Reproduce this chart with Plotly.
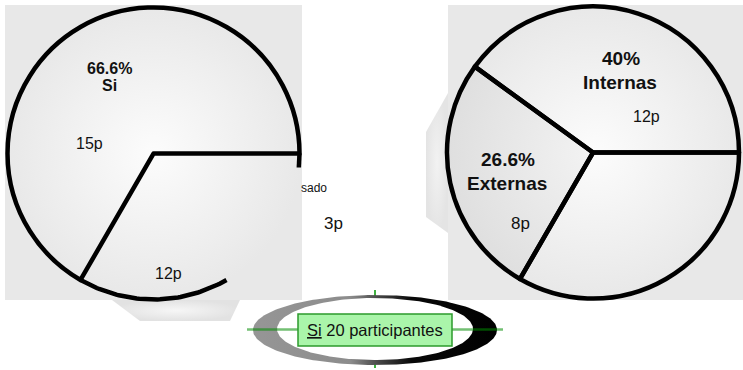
import numpy as np
import plotly.graph_objects as go

W, H = 743, 370

# ---- data ----
left_labels = ["Si", "No"]
left_values = [20, 10]
right_labels = ["Externas", "Internas", "No"]
right_values = [8, 12, 10]
right_fills = ["rgba(0,0,0,0.035)", "rgba(0,0,0,0)", "rgba(0,0,0,0)"]

left_texts = ["66.6%", "Si", "15p", "12p", "sado", "3p"]
right_texts = ["40%", "Internas", "12p", "26.6%", "Externas", "8p"]
badge_text = "<u>Si</u> 20 participantes"

FONT = "Liberation Sans, Arial, sans-serif"

fig = go.Figure()


def poly(xs, ys, **kw):
    xs = list(xs) + [list(xs)[0]]
    ys = list(ys) + [list(ys)[0]]
    fig.add_trace(go.Scatter(x=xs, y=ys, mode="lines",
                             line=dict(width=0, color="rgba(0,0,0,0)"),
                             fill="toself", hoverinfo="skip", showlegend=False, **kw))


def rgrad(c0, c1):
    return dict(type="radial", colorscale=[[0, c0], [1, c1]])


# background panels
poly([5, 302, 302, 5], [5, 5, 300, 300], fillgradient=rgrad("#fcfcfc", "#e8e8e8"))
poly([112, 240, 230, 140], [300, 300, 321, 321], fillgradient=rgrad("#f6f6f6", "#e2e2e2"))
poly([448, 743, 743, 448], [5, 5, 300, 300], fillgradient=rgrad("#fcfcfc", "#e8e8e8"))
poly([448, 426, 426, 448], [93, 132, 217, 233], fillgradient=rgrad("#f2f2f2", "#e4e4e4"))

# left pie geometry (pixels) -> domain
LCX, LCY, LR = 153.5, 153.5, 146
RCX, RCY, RR = 593, 152.5, 146

# visible parts of the "No" slice outline of the left pie (the rest is cropped in the source)
split = 90 + 360 * left_values[1] / sum(left_values)   # Si/No boundary (clockwise deg from 12 o'clock)
for a0, a1 in [(split, 150), (90, 95.5)]:
    ph = np.radians(np.linspace(a0, a1, 60))
    fig.add_trace(go.Scatter(x=LCX + LR * np.sin(ph), y=LCY - LR * np.cos(ph), mode="lines",
                             line=dict(color="black", width=4.5), hoverinfo="skip",
                             showlegend=False))

# ellipse badge
t = np.linspace(0, 2 * np.pi, 240)
poly(375 + 122 * np.cos(t), 330 + 35 * np.sin(t),
     fillgradient=dict(type="horizontal",
                       colorscale=[[0, "#969696"], [0.4, "#8c8c8c"], [0.52, "#444444"],
                                   [0.65, "#080808"], [1, "#000000"]]))
poly(375 + 98 * np.cos(t), 329 + 31 * np.sin(t), fillcolor="white")

# pies
fig.add_trace(go.Pie(labels=left_labels, values=left_values, sort=False,
                     direction="clockwise",
                     rotation=90 - 360 * left_values[0] / sum(left_values),
                     marker=dict(colors=["rgba(0,0,0,0)"] * 2,
                                 line=dict(color="black", width=[4.5, 0])),
                     textinfo="none", showlegend=False,
                     domain=dict(x=[(LCX - LR) / W, (LCX + LR) / W],
                                 y=[(H - LCY - LR) / H, (H - LCY + LR) / H])))
fig.add_trace(go.Pie(labels=right_labels, values=right_values, sort=False,
                     direction="clockwise",
                     rotation=90 - 360 * (right_values[0] + right_values[1]) / sum(right_values),
                     marker=dict(colors=right_fills,
                                 line=dict(color="black", width=4.5)),
                     textinfo="none", showlegend=False,
                     domain=dict(x=[(RCX - RR) / W, (RCX + RR) / W],
                                 y=[(H - RCY - RR) / H, (H - RCY + RR) / H])))

shapes = [
    dict(type="line", x0=375, x1=375, y0=290, y1=368, layer="below",
         line=dict(color="rgba(0,150,0,0.75)", width=2)),
    dict(type="line", x0=247, x1=503, y0=329.5, y1=329.5, layer="above",
         line=dict(color="rgba(0,140,0,0.55)", width=2.5)),
    dict(type="rect", x0=298, x1=452, y0=314, y1=346, layer="above",
         fillcolor="#aaf5aa", line=dict(color="#2d9a2d", width=1.5)),
]
for s in shapes:
    s.update(xref="x", yref="y")

ann = []


def label(text, x, y, size, bold=False, xanchor="center"):
    ann.append(dict(x=x, y=y, xref="x", yref="y", text=f"<b>{text}</b>" if bold else text,
                    showarrow=False, xanchor=xanchor, yanchor="middle",
                    font=dict(family=FONT, size=size, color="#111111")))


label(left_texts[0], 109, 68.5, 16, True)
label(left_texts[1], 109, 85, 16, True)
label(left_texts[2], 89, 143, 16)
label(left_texts[3], 168, 273, 16)
label(left_texts[4], 299, 188, 12, xanchor="left")
label(left_texts[5], 333, 223, 17)
label(right_texts[0], 621, 58, 19, True)
label(right_texts[1], 620, 82, 19, True)
label(right_texts[2], 646, 116, 16)
label(right_texts[3], 507.5, 159.5, 19, True)
label(right_texts[4], 507, 183, 19, True)
label(right_texts[5], 520, 223, 17)
label(badge_text, 375, 330, 16.5)

fig.update_layout(
    width=W, height=H, margin=dict(l=0, r=0, t=0, b=0),
    paper_bgcolor="white", plot_bgcolor="white", showlegend=False,
    xaxis=dict(range=[0, W], visible=False, fixedrange=True),
    yaxis=dict(range=[H, 0], visible=False, fixedrange=True),
    shapes=shapes, annotations=ann,
)

fig.write_html("out.html")
